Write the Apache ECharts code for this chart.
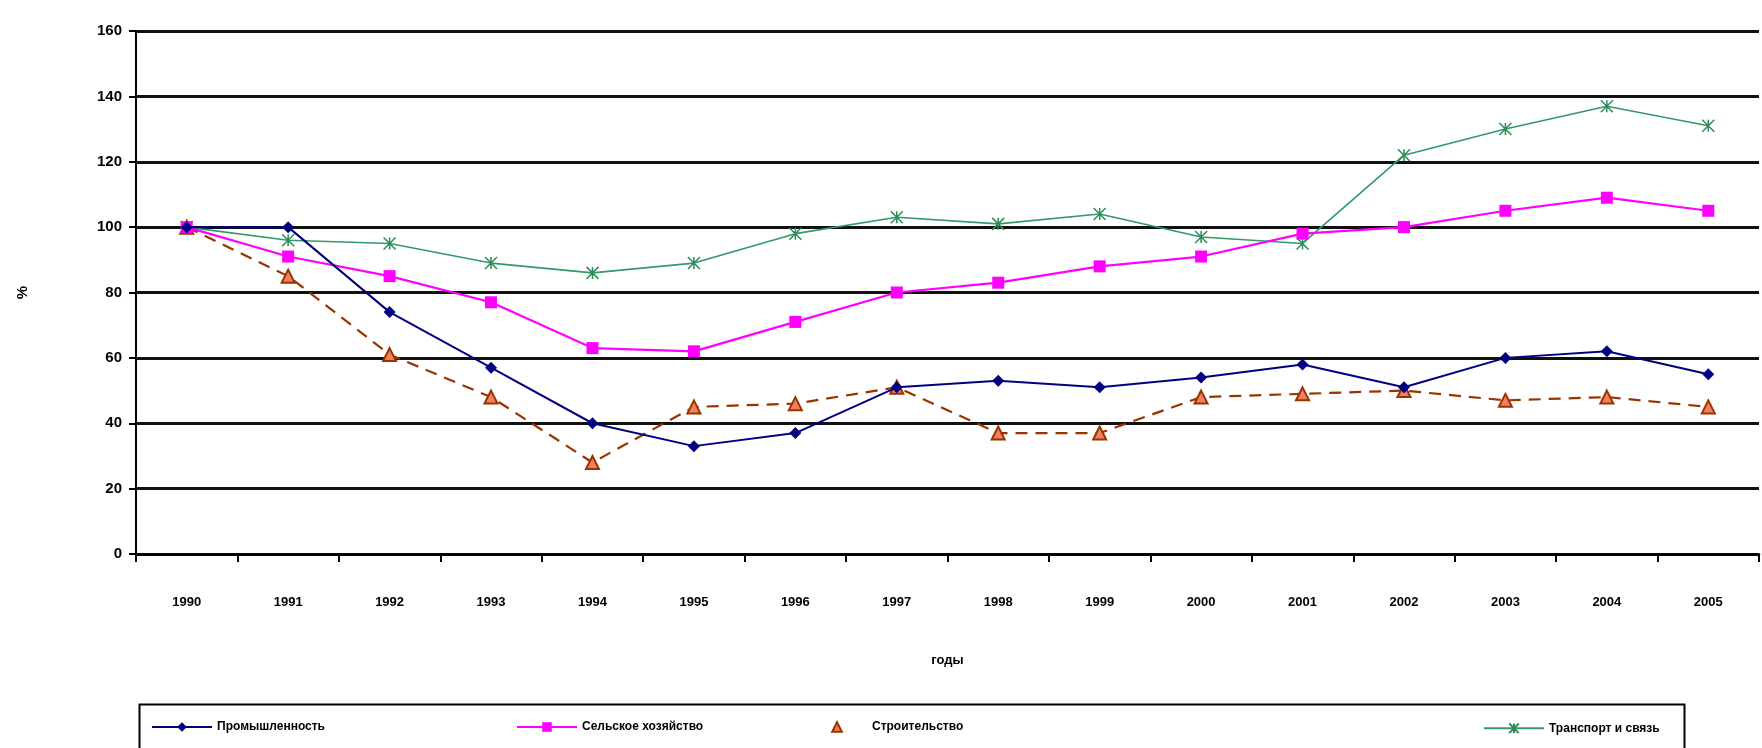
<!DOCTYPE html>
<html><head><meta charset="utf-8">
<script src="https://cdn.jsdelivr.net/npm/echarts@6/dist/echarts.min.js"></script>
<style>html,body{margin:0;padding:0;background:#fff}#c{width:1762px;height:748px}</style>
</head><body><div id="c"></div>
<script>
const years = ['1990','1991','1992','1993','1994','1995','1996','1997','1998','1999','2000','2001','2002','2003','2004','2005'];
const industry     = [100,100,74,57,40,33,37,51,53,51,54,58,51,60,62,55];
const agriculture  = [100,91,85,77,63,62,71,80,83,88,91,98,100,105,109,105];
const construction = [100,85,61,48,28,45,46,51,37,37,48,49,50,47,48,45];
const transport    = [100,96,95,89,86,89,98,103,101,104,97,95,122,130,137,131];
const names = ['Промышленность','Сельское хозяйство','Строительство','Транспорт и связь'];
const yTicks = {min:0, max:160, interval:20};

const chart = echarts.init(document.getElementById('c'));
const font = 'Liberation Sans, Arial, sans-serif';
const legendBase = {top: 716, itemWidth: 60, itemHeight: 12, itemGap: 4,
  textStyle:{fontFamily:font, fontSize:12, fontWeight:'bold', color:'#000'}};
chart.setOption({
  animation:false,
  backgroundColor:'#fff',
  grid:{left:136, right:3, top:31, bottom:194},
  legend:[
    Object.assign({data:[names[0]], left:146}, legendBase),
    Object.assign({data:[names[1]], left:511}, legendBase),
    Object.assign({data:[names[2]], left:801, lineStyle:{opacity:0}}, legendBase),
    Object.assign({data:[names[3]], left:1478}, legendBase)
  ],
  graphic:[{type:'rect', left:137, top:702, shape:{width:1545, height:45},
    style:{fill:'none', stroke:'#000', lineWidth:2}, z:-1}],
  xAxis:{type:'category', data:years, boundaryGap:true,
    name:'годы', nameLocation:'middle', nameGap:100,
    nameTextStyle:{fontFamily:font, fontSize:13, fontWeight:'bold', color:'#000'},
    axisLine:{lineStyle:{color:'#000', width:2.5}},
    axisTick:{show:true, alignWithLabel:false, length:8, lineStyle:{color:'#000', width:2}},
    axisLabel:{margin:42, fontFamily:font, fontSize:13, fontWeight:'bold', color:'#000'},
    splitLine:{show:false}},
  yAxis:{type:'value', min:yTicks.min, max:yTicks.max, interval:yTicks.interval,
    name:'%', nameLocation:'middle', nameGap:106,
    nameTextStyle:{fontFamily:font, fontSize:15, fontWeight:'bold', color:'#000'},
    axisLine:{show:true, lineStyle:{color:'#000', width:2}},
    axisTick:{show:true, length:7, lineStyle:{color:'#000', width:2}},
    axisLabel:{margin:14, fontFamily:font, fontSize:15, fontWeight:'bold', color:'#000'},
    splitLine:{show:true, lineStyle:{color:'#111', width:2.8}}},
  series:[
    {name:names[0], type:'line', data:industry, symbol:'diamond', symbolSize:12,
      itemStyle:{color:'#000080'}, lineStyle:{color:'#000080', width:2}, z:4},
    {name:names[1], type:'line', data:agriculture, symbol:'rect', symbolSize:12,
      itemStyle:{color:'#FF00FF'}, lineStyle:{color:'#FF00FF', width:2.2}, z:3},
    {name:names[2], type:'line', data:construction, symbol:'triangle', symbolSize:13,
      itemStyle:{color:'#F08060', borderColor:'#993300', borderWidth:2},
      lineStyle:{color:'#993300', width:2.2, type:[12,8]}, z:2},
    {name:names[3], type:'line', data:transport, symbol:'path://M0,0L10,10M10,0L0,10M5,0L5,10', symbolSize:12,
      itemStyle:{color:'none', borderColor:'#2E8B57', borderWidth:1.5},
      lineStyle:{color:'#339966', width:1.6}, z:1}
  ]
});
</script></body></html>
